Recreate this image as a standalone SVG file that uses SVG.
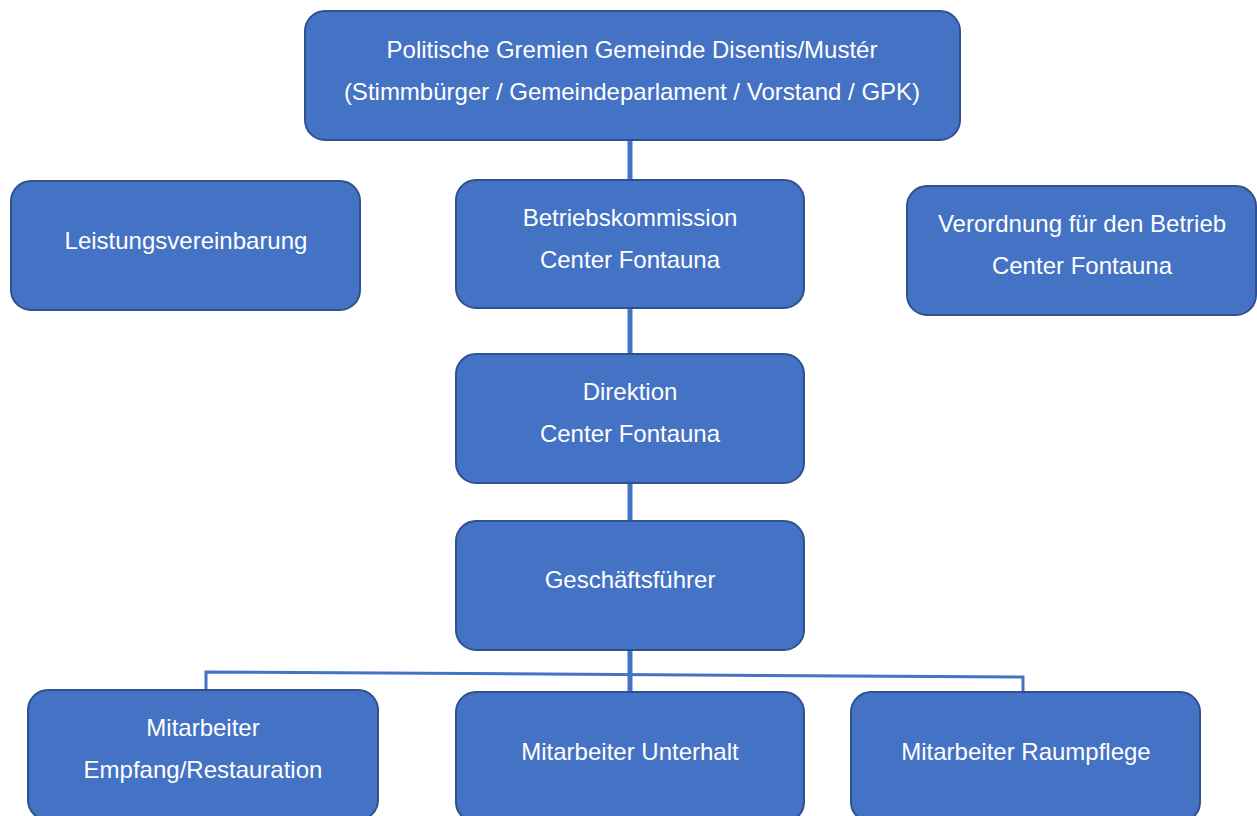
<svg xmlns="http://www.w3.org/2000/svg" width="1257" height="816" viewBox="0 0 1257 816">
<style>
.box{fill:#4472C4;stroke:#2F528F;stroke-width:2}
.t{fill:#FFFFFF;font-family:"Liberation Sans",Arial,sans-serif;font-size:24px;text-anchor:middle}
.c{stroke:#4472C4;fill:none}
</style>
<rect width="1257" height="816" fill="#FFFFFF"/>
<g id="connectors">
<line class="c" x1="630" y1="140" x2="630" y2="180" stroke-width="5"/>
<line class="c" x1="630" y1="308" x2="630" y2="354" stroke-width="5"/>
<line class="c" x1="630" y1="483" x2="630" y2="521" stroke-width="5"/>
<line class="c" x1="630" y1="650" x2="630" y2="692" stroke-width="5"/>
<polyline class="c" points="206,690 206,672 1023,677 1023,692" stroke-width="3"/>
</g>
<g id="n-politische">
<rect class="box" x="305" y="11" width="655" height="129" rx="20"/>
<text class="t" x="632" y="58">Politische Gremien Gemeinde Disentis/Mustér</text>
<text class="t" x="632" y="100">(Stimmbürger / Gemeindeparlament / Vorstand / GPK)</text>
</g>
<g id="n-leistung">
<rect class="box" x="11" y="181" width="349" height="129" rx="20"/>
<text class="t" x="186" y="249">Leistungsvereinbarung</text>
</g>
<g id="n-betriebskommission">
<rect class="box" x="456" y="180" width="348" height="128" rx="20"/>
<text class="t" x="630" y="226">Betriebskommission</text>
<text class="t" x="630" y="268">Center Fontauna</text>
</g>
<g id="n-verordnung">
<rect class="box" x="907" y="186" width="349" height="129" rx="20"/>
<text class="t" x="1082" y="232">Verordnung für den Betrieb</text>
<text class="t" x="1082" y="274">Center Fontauna</text>
</g>
<g id="n-direktion">
<rect class="box" x="456" y="354" width="348" height="129" rx="20"/>
<text class="t" x="630" y="400">Direktion</text>
<text class="t" x="630" y="442">Center Fontauna</text>
</g>
<g id="n-geschaeftsfuehrer">
<rect class="box" x="456" y="521" width="348" height="129" rx="20"/>
<text class="t" x="630" y="588">Geschäftsführer</text>
</g>
<g id="n-empfang">
<rect class="box" x="28" y="690" width="350" height="130" rx="20"/>
<text class="t" x="203" y="736">Mitarbeiter</text>
<text class="t" x="203" y="778">Empfang/Restauration</text>
</g>
<g id="n-unterhalt">
<rect class="box" x="456" y="692" width="348" height="130" rx="20"/>
<text class="t" x="630" y="760">Mitarbeiter Unterhalt</text>
</g>
<g id="n-raumpflege">
<rect class="box" x="851" y="692" width="349" height="130" rx="20"/>
<text class="t" x="1026" y="760">Mitarbeiter Raumpflege</text>
</g>
</svg>
